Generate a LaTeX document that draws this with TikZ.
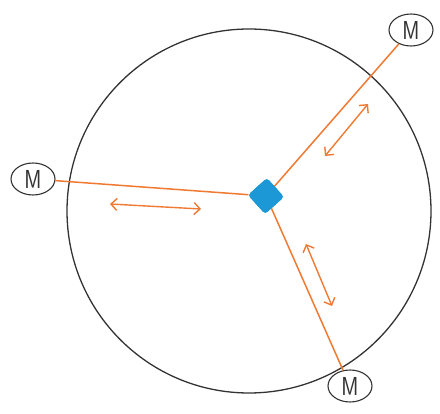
\documentclass[tikz,border=0pt]{standalone}
\usetikzlibrary{arrows.meta,shapes.geometric}
\definecolor{orng}{HTML}{F07A32}
\definecolor{hub}{HTML}{1B98D5}
\definecolor{ink}{HTML}{333333}
\begin{document}
\begin{tikzpicture}[x=1pt,y=-1pt,
  motor/.style={draw=ink,line width=1.1pt,ellipse,minimum width=44pt,minimum height=32pt,inner sep=0pt,fill=white,font=\sffamily\fontsize{26}{26}\selectfont,text=ink},
  hubbox/.style={draw=hub,fill=hub,rectangle,rounded corners=3pt,minimum size=25pt,rotate=42},
  link/.style={draw=orng,line width=1.5pt},
  dbl/.style={draw=orng,line width=1.4pt,{Straight Barb[length=6pt,width=12pt]}-{Straight Barb[length=6pt,width=12pt]}}]
\useasboundingbox (0,0) rectangle (440,414);
\draw[ink,line width=1.3pt] (249,211) circle[radius=182];
\node[hubbox] (hub) at (266,196) {};
\node[motor] (ml) at (33,179) {\scalebox{0.8}[1]{M}};
\node[motor] (mt) at (411,30) {\scalebox{0.8}[1]{M}};
\node[motor] (mb) at (350,386) {\scalebox{0.8}[1]{M}};
\draw[link] (ml) -- (hub);
\draw[link] (mt) -- (hub);
\draw[link] (mb) -- (hub);
\node[hubbox] at (266,196) {};
\coordinate (a1) at (110,204);
\coordinate (a2) at (201,209);
\coordinate (b1) at (325,156);
\coordinate (b2) at (368,104);
\coordinate (c1) at (306,244);
\coordinate (c2) at (332,306);
\draw[dbl] (a1) -- (a2);
\draw[dbl] (b1) -- (b2);
\draw[dbl] (c1) -- (c2);
\end{tikzpicture}
\end{document}
